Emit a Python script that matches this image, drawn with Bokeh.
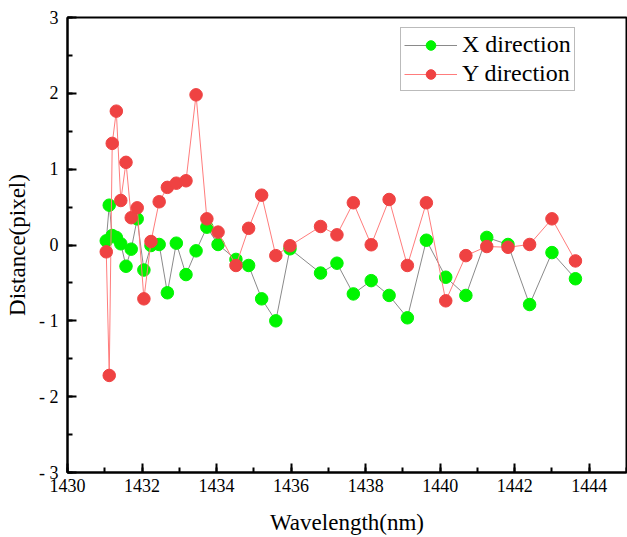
from bokeh.plotting import figure
from bokeh.models import SingleIntervalTicker, Legend, LegendItem, Range1d
from bokeh.embed import file_html
from bokeh.resources import INLINE

wavelength = [1431.04, 1431.12, 1431.20, 1431.31, 1431.43, 1431.57, 1431.71, 1431.87,
              1432.05, 1432.24, 1432.46, 1432.68, 1432.92, 1433.18, 1433.45, 1433.74,
              1434.04, 1434.52, 1434.86, 1435.21, 1435.59, 1435.97, 1436.79, 1437.23,
              1437.67, 1438.15, 1438.63, 1439.12, 1439.63, 1440.15, 1440.69, 1441.25,
              1441.82, 1442.40, 1443.00, 1443.63]

x_direction = [0.055, 0.525, 0.125, 0.10, 0.016, -0.28, -0.055, 0.345,
               -0.33, -0.007, 0.007, -0.63, 0.024, -0.39, -0.077, 0.235,
               0.007, -0.19, -0.27, -0.71, -1.0, -0.05, -0.37, -0.24,
               -0.645, -0.47, -0.665, -0.96, 0.063, -0.425, -0.665, 0.10,
               0.007, -0.785, -0.10, -0.445]

y_direction = [-0.09, -1.72, 1.34, 1.765, 0.587, 1.09, 0.36, 0.49,
               -0.71, 0.046, 0.57, 0.76, 0.815, 0.847, 1.98, 0.345,
               0.17, -0.27, 0.22, 0.657, -0.14, -0.01, 0.244, 0.134,
               0.557, 0.003, 0.60, -0.27, 0.557, -0.736, -0.14, -0.02,
               -0.03, 0.007, 0.345, -0.21]

y_tick_labels = {3: "3", 2: "2", 1: "1", 0: "0", -1: "- 1", -2: "- 2", -3: "- 3"}
series_labels = ["X direction", "Y direction"]

FONT = "Liberation Serif"

p = figure(width=627, height=537, output_backend="svg", toolbar_location=None,
           x_range=Range1d(1430, 1445), y_range=Range1d(-3, 3),
           min_border_left=67, min_border_right=1, min_border_top=17, min_border_bottom=65)

p.background_fill_color = "white"
p.border_fill_color = "white"
p.outline_line_color = "black"
p.outline_line_width = 2
p.xgrid.visible = False
p.ygrid.visible = False

p.xaxis.ticker = SingleIntervalTicker(interval=2, num_minor_ticks=2)
p.yaxis.ticker = SingleIntervalTicker(interval=1, num_minor_ticks=2)
p.yaxis.major_label_overrides = y_tick_labels

p.axis.axis_line_width = 2
p.axis.axis_line_color = "black"
p.axis.major_tick_in = 9
p.axis.major_tick_out = 0
p.axis.minor_tick_in = 5
p.axis.minor_tick_out = 0
p.axis.major_tick_line_width = 2
p.axis.minor_tick_line_width = 2
p.axis.major_label_text_font = FONT
p.axis.major_label_text_font_size = "18px"
p.axis.major_label_text_font_style = "normal"
p.axis.major_label_text_color = "black"
p.axis.axis_label_text_font = FONT
p.axis.axis_label_text_font_size = "23px"
p.axis.axis_label_text_font_style = "normal"
p.axis.axis_label_text_color = "black"

p.xaxis.axis_label = "Wavelength(nm)"
p.yaxis.axis_label = "Distance(pixel)"
p.xaxis.major_label_standoff = 6
p.xaxis.axis_label_standoff = 15
p.yaxis.major_label_standoff = 9
p.yaxis.axis_label_standoff = 6

gl = p.line(wavelength, x_direction, line_color="#8a8a8a", line_width=1)
gs = p.scatter(wavelength, x_direction, size=12.5, fill_color="#00f500", line_color="#00f500")
rl = p.line(wavelength, y_direction, line_color="#ff7c7c", line_width=1)
rs = p.scatter(wavelength, y_direction, size=12.5, fill_color="#ef4242", line_color="#ef4242")

legend = Legend(items=[LegendItem(label=series_labels[0], renderers=[gl, gs]),
                       LegendItem(label=series_labels[1], renderers=[rl, rs])],
                location=(333, 381))
legend.label_text_font = FONT
legend.label_text_font_size = "24px"
legend.label_text_color = "black"
legend.glyph_width = 53
legend.glyph_height = 24
legend.label_height = 24
legend.label_standoff = 5
legend.spacing = 2
legend.padding = 3
legend.margin = 0
legend.border_line_color = "#777777"
legend.border_line_width = 1
legend.background_fill_alpha = 1
p.add_layout(legend)

open("out.html", "w").write(file_html(p, INLINE))
